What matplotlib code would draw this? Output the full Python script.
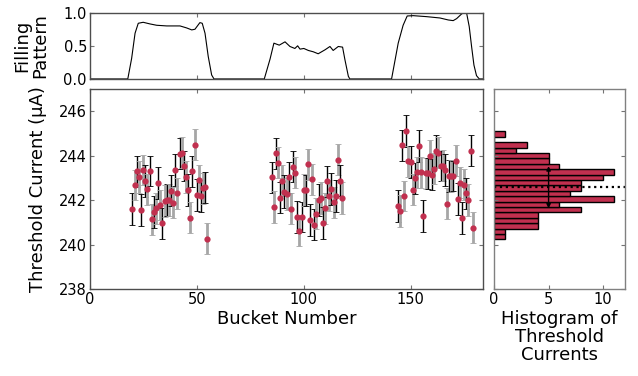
import matplotlib
matplotlib.use("Agg")
import matplotlib.pyplot as plt

# filling pattern (top panel)
fill_x = [0, 17.8, 19.6, 21.2, 22.7, 25.0, 28.2, 31.3, 36.0, 42.2, 45.3, 47.7, 49.2, 51.5, 52.6,
          53.9, 55.4, 57.0, 58.1,
          81.6, 84.3, 86.1, 88.6, 91.3, 93.6, 95.9, 97.2, 98.3, 100.1, 102.2, 104.5, 106.8,
          110.0, 112.3, 113.8, 116.2, 118.2, 119.3, 120.9, 121.6,
          141.1, 144.2, 146.5, 148.4, 151.2, 157.5, 163.7, 167.6, 169.9, 171.5, 173.8, 174.9,
          176.2, 177.4, 178.5, 179.6, 180.8, 182.1, 184]
fill_y = [0, 0, 0.31, 0.69, 0.84, 0.855, 0.83, 0.81, 0.80, 0.80, 0.77, 0.74, 0.75, 0.85, 0.84,
          0.69, 0.34, 0.06, 0,
          0, 0.30, 0.54, 0.51, 0.56, 0.49, 0.46, 0.50, 0.45, 0.46, 0.43, 0.41, 0.38,
          0.44, 0.49, 0.43, 0.49, 0.48, 0.29, 0.04, 0,
          0, 0.54, 0.81, 0.95, 0.955, 0.94, 0.92, 0.89, 0.88, 0.91, 0.98, 1.0,
          0.99, 0.79, 0.49, 0.21, 0.05, 0, 0]

# threshold currents per bucket
buckets = [20, 21, 22, 23, 24, 25, 26, 27, 28, 29, 30, 31, 32, 33, 34, 35, 36, 37,
           38, 39, 40, 41, 42, 43, 44, 45, 46, 47, 48, 49, 50, 51, 52, 53, 54, 55,
           85, 86, 87, 88, 89, 90, 91, 92, 93, 94, 95, 96, 97, 98, 99, 100, 101,
           102, 103, 104, 105, 106, 107, 108, 109, 110, 111, 112, 113, 114, 115, 116, 117, 118,
           144, 145, 146, 147, 148, 149, 150, 151, 152, 153, 154, 155, 156, 157, 158, 159, 160,
           161, 162, 163, 164, 165, 166, 167, 168, 169, 170, 171, 172, 173, 174, 175, 176, 177,
           178, 179]
current = [241.62, 242.68, 243.30, 243.04, 241.57, 243.37, 242.88, 242.50, 243.33, 241.15,
           241.48, 241.65, 242.79, 241.80, 240.97, 241.98, 242.02, 242.02, 242.43, 241.90,
           243.36, 242.32, 244.09, 244.15, 243.55, 243.07, 242.47, 241.23, 243.30, 244.51,
           242.25, 242.91, 242.20, 242.55, 242.59, 240.27,
           243.03, 241.72, 244.11, 243.70, 242.13, 242.89, 242.40, 242.29, 243.04, 241.63,
           243.52, 243.24, 241.26, 240.64, 241.26, 242.47, 242.45, 243.63, 241.14, 242.95,
           240.91, 241.41, 242.02, 242.11, 240.99, 241.65, 242.86, 242.22, 242.52, 241.92,
           242.19, 243.82, 242.88, 242.11,
           241.75, 241.54, 244.47, 242.20, 245.12, 243.76, 243.73, 242.49, 243.00, 243.27,
           244.45, 243.27, 241.30, 243.22, 243.22, 244.00, 243.16, 243.43, 244.20, 244.15,
           243.55, 243.55, 243.37, 241.86, 243.10, 243.10, 243.10, 243.79, 242.05, 242.80,
           241.23, 242.70, 242.32, 242.02, 244.24, 240.78]
error = [0.71, 0.68, 0.70, 0.72, 0.70, 0.69, 0.72, 0.70, 0.68, 0.70,
         0.72, 0.70, 0.71, 0.69, 0.70, 0.72, 0.70, 0.71, 0.69, 0.70,
         0.72, 0.70, 0.70, 0.71, 0.69, 0.72, 0.70, 0.68, 0.70, 0.70,
         0.71, 0.70, 0.72, 0.69, 0.70, 0.70,
         0.70, 0.72, 0.70, 0.69, 0.71, 0.70, 0.72, 0.70, 0.69, 0.70,
         0.71, 0.70, 0.72, 0.70, 0.69, 0.70, 0.71, 0.70, 0.72, 0.70,
         0.69, 0.70, 0.71, 0.70, 0.72, 0.70, 0.69, 0.70, 0.71, 0.70,
         0.72, 0.70, 0.69, 0.70,
         0.70, 0.72, 0.70, 0.69, 0.71, 0.70, 0.72, 0.70, 0.69, 0.70,
         0.71, 0.70, 0.72, 0.70, 0.69, 0.70, 0.71, 0.70, 0.72, 0.70,
         0.69, 0.70, 0.71, 0.70, 0.72, 0.70, 0.69, 0.70, 0.71, 0.70,
         0.72, 0.70, 0.69, 0.70, 0.71, 0.71]

# histogram of threshold currents, bins from low to high
hist_counts = [1, 1, 4, 4, 4, 8, 6, 11, 7, 8, 8, 10, 11, 6, 5, 5, 2, 3, 0, 1]
hist_lo = 240.25
hist_hi = 245.10
mean_current = 242.59
std_current = 0.95

red = "#C1304F"
tick_fs = 10.5
label_fs = 13

plt.rcParams["font.family"] = "DejaVu Sans"
fig = plt.figure(figsize=(6.38, 3.76), dpi=100)
ax_top = fig.add_axes([0.1406, 0.790, 0.617, 0.1763])
ax = fig.add_axes([0.1406, 0.2306, 0.617, 0.532])
ax_h = fig.add_axes([0.7743, 0.2306, 0.2053, 0.532])

for a in (ax_top, ax, ax_h):
    a.tick_params(direction="in", top=True, right=True, length=3, width=0.8,
                  color="0.45", labelsize=tick_fs, pad=2)
    for s in a.spines.values():
        s.set_color("0.3")
        s.set_linewidth(1.0)
for s in ax_h.spines.values():
    s.set_color("0.5")

# top panel
ax_top.plot(fill_x, fill_y, color="black", lw=0.8)
ax_top.set_xlim(0, 184)
ax_top.set_ylim(0, 1)
ax_top.set_xticks([0, 50, 100, 150])
ax_top.set_xticklabels([])
ax_top.set_yticks([0, 0.5, 1.0])
ax_top.set_yticklabels(["0.0", "0.5", "1.0"])
ax_top.set_ylabel("Filling\nPattern", fontsize=label_fs, linespacing=1.0)
ax_top.yaxis.set_label_coords(-0.103, 0.5)

# main panel
bar_cols = ["black" if i % 2 == 0 else "0.65" for i in range(len(buckets))]
for b, c, e, col in zip(buckets, current, error, bar_cols):
    lw = 1.0 if col == "black" else 2.0
    ax.errorbar(b, c, yerr=e, fmt="none", ecolor=col, elinewidth=lw,
                capsize=2, capthick=0.6, zorder=2)
ax.plot(buckets, current, "o", color=red, markersize=4.5, markeredgewidth=0, zorder=3)
ax.set_xlim(0, 184)
ax.set_ylim(238, 247)
ax.set_xticks([0, 50, 100, 150])
ax.set_yticks([238, 240, 242, 244, 246])
ax.set_xlabel("Bucket Number", fontsize=label_fs, labelpad=2)
ax.set_ylabel("Threshold Current (μA)", fontsize=label_fs)
ax.yaxis.set_label_coords(-0.108, 0.5)

# histogram panel
width = (hist_hi - hist_lo) / len(hist_counts)
lows = [hist_lo + i * width for i in range(len(hist_counts))]
ax_h.barh(lows, hist_counts, height=width, align="edge", color=red,
          edgecolor="black", linewidth=1.0)
ax_h.axhline(mean_current, color="black", ls=":", lw=1.6)
ax_h.annotate("", xy=(5, mean_current - std_current), xytext=(5, mean_current + std_current),
              arrowprops=dict(arrowstyle="<|-|>", color="black", lw=1.0,
                              mutation_scale=6, shrinkA=0, shrinkB=0))
ax_h.set_xlim(0, 12)
ax_h.set_ylim(238, 247)
ax_h.set_xticks([0, 5, 10])
ax_h.set_yticks([238, 240, 242, 244, 246])
ax_h.set_yticklabels([])
ax_h.set_xlabel("Histogram of\nThreshold\nCurrents", fontsize=label_fs,
                linespacing=1.0, labelpad=2)

fig.savefig("out.png", dpi=100)
